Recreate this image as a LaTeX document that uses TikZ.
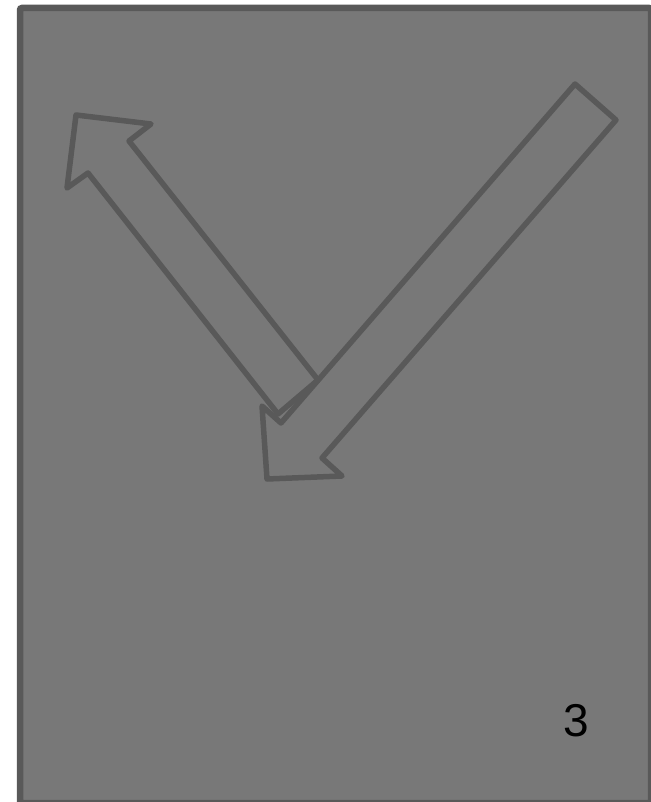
\documentclass[tikz,border=0pt]{standalone}
\usepackage{fontspec}
\setmainfont{Liberation Sans}
\definecolor{bgfill}{HTML}{787878}
\definecolor{edge}{HTML}{595959}
\tikzset{
  frame/.style={draw=edge, fill=bgfill, line width=6.5pt, rounded corners=2pt},
  blockarrow/.style={draw=edge, line width=5.5pt, line join=round},
  lbl/.style={font=\fontsize{46}{46}\selectfont, text=black, inner sep=0pt}
}
\begin{document}
\begin{tikzpicture}[x=1pt,y=-1pt]
\useasboundingbox (0,0) rectangle (650,802);
\draw[frame] (20,8) rectangle (651,803);
% arrow pointing up-left
\draw[blockarrow] (76,115) -- (151,124) -- (129,141) -- (318,380) -- (278,414) -- (88,173) -- (67,188) -- cycle;
% arrow pointing down-left
\draw[blockarrow] (267,479) -- (262,406) -- (281,423) -- (575,84) -- (616,120) -- (322,458) -- (342,476) -- cycle;
\node[lbl] (num) at (576.5,721) {3};
\end{tikzpicture}
\end{document}
